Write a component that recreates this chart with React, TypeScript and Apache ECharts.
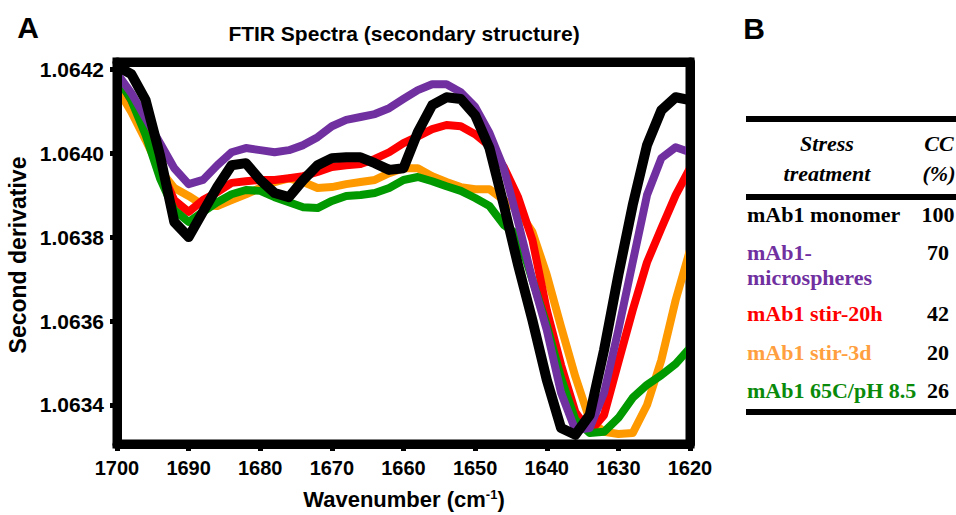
import React, { useEffect, useRef } from "react";
import * as echarts from "echarts";

const wavenumbers = [
  1700, 1698, 1696, 1694, 1692, 1690, 1688, 1686, 1684, 1682, 1680, 1678, 1676, 1674,
  1672, 1670, 1668, 1666, 1664, 1662, 1660, 1658, 1656, 1654, 1652, 1650, 1648, 1646,
  1644, 1642, 1640, 1638, 1636, 1634, 1632, 1630, 1628, 1626, 1624, 1622, 1620,
];

const monomer = [
  1.064207, 1.064188, 1.064126, 1.063995, 1.063836, 1.0638, 1.06386, 1.063919, 1.063971,
  1.063976, 1.063936, 1.063905, 1.063895, 1.063936, 1.063971, 1.063988, 1.06399, 1.06399,
  1.063976, 1.06396, 1.063964, 1.06405, 1.064114, 1.064133, 1.064129, 1.06409, 1.064012,
  1.063876, 1.063733, 1.063602, 1.06346, 1.063345, 1.063329, 1.063376, 1.063531, 1.06371,
  1.063876, 1.064019, 1.064102, 1.064133, 1.064126,
];

const microspheres = [
  1.06419, 1.064143, 1.064083, 1.064024, 1.063964, 1.063926, 1.063936, 1.063971, 1.064002,
  1.064012, 1.064007, 1.064002, 1.064007, 1.064019, 1.064038, 1.064064, 1.064079, 1.064086,
  1.064093, 1.064107, 1.064129, 1.06415, 1.064164, 1.064164, 1.064145, 1.06411, 1.064048,
  1.063964, 1.063836, 1.063698, 1.063579, 1.063429, 1.06334, 1.063345, 1.063429, 1.063579,
  1.06374, 1.0639, 1.063988, 1.064014, 1.064002,
];

const stir20h = [
  1.064186, 1.064126, 1.064055, 1.063964, 1.063888, 1.06386, 1.063888, 1.063907, 1.063929,
  1.063933, 1.063936, 1.063936, 1.06394, 1.063945, 1.063955, 1.063967, 1.063971, 1.063974,
  1.063986, 1.064002, 1.064024, 1.06404, 1.064057, 1.064067, 1.064064, 1.064045, 1.064017,
  1.063967, 1.063895, 1.063793, 1.063626, 1.063495, 1.063383, 1.063336, 1.063376, 1.063502,
  1.063626, 1.06374, 1.063821, 1.0639, 1.063964,
];

const stir3d = [
  1.064155, 1.064098, 1.064031, 1.06396, 1.063917, 1.063898, 1.063876, 1.063874, 1.063888,
  1.063902, 1.063917, 1.063931, 1.06394, 1.063931, 1.063917, 1.063919, 1.063926, 1.063931,
  1.063936, 1.063952, 1.063964, 1.063964, 1.063945, 1.063931, 1.063919, 1.063914, 1.063914,
  1.063888, 1.063864, 1.063812, 1.06371, 1.063586, 1.063467, 1.063364, 1.063336, 1.063331,
  1.063333, 1.0634, 1.063507, 1.06365, 1.063769,
];

const heat65C = [
  1.064181, 1.064126, 1.064043, 1.06394, 1.063864, 1.063836, 1.06386, 1.063883, 1.063902,
  1.063912, 1.06391, 1.063895, 1.063883, 1.063871, 1.063869, 1.063886, 1.063898, 1.0639,
  1.063905, 1.063917, 1.063936, 1.063943, 1.063933, 1.063921, 1.06391, 1.063893, 1.063874,
  1.063829, 1.063805, 1.063698, 1.06359, 1.063464, 1.063364, 1.063333, 1.063336, 1.063369,
  1.063417, 1.063448, 1.063471, 1.063498, 1.063536,
];

const yTicks = [1.0634, 1.0636, 1.0638, 1.064, 1.0642];

const tableRows = ["mAb1 monomer", "mAb1-\nmicrospheres", "mAb1 stir-20h", "mAb1 stir-3d", "mAb1 65C/pH 8.5"];
const tableCC = ["100", "70", "42", "20", "26"];

const sans = '"Liberation Sans", Arial, sans-serif';
const serif = '"Liberation Serif", "Times New Roman", serif';

export default function App() {
  const ref = useRef<HTMLDivElement>(null);
  useEffect(() => {
    if (!ref.current) return;
    const chart = echarts.init(ref.current, undefined, { renderer: "svg" });
    const pair = (arr: number[]) => wavenumbers.map((w, i) => [w, arr[i]]);
    const mk = (name: string, arr: number[], color: string, width: number) => ({
      name,
      type: "line",
      data: pair(arr),
      showSymbol: false,
      symbol: "none",
      lineStyle: { color, width, join: "round" },
      xAxisIndex: 0,
      yAxisIndex: 0,
    });
    const yMin = 1.063307;
    const yMax = 1.064217;
    const rowY = [214, 252, 313, 352, 390];
    const rowColors = ["#000000", "#7030A0", "#FF0000", "#FF9F40", "#0A8A0A"];
    const tf = `bold 22px ${serif}`;
    const tfi = `italic bold 22px ${serif}`;
    const tableGraphics: any[] = [];
    [119, 197, 412].forEach((y) =>
      tableGraphics.push({ type: "rect", shape: { x: 746, y: y - 3, width: 215, height: 6 }, style: { fill: "#000" } })
    );
    tableGraphics.push({ type: "text", x: 827, y: 143, style: { text: "Stress", font: tfi, fill: "#000", align: "center", verticalAlign: "middle" } });
    tableGraphics.push({ type: "text", x: 827, y: 173, style: { text: "treatment", font: tfi, fill: "#000", align: "center", verticalAlign: "middle" } });
    tableGraphics.push({ type: "text", x: 939, y: 143, style: { text: "CC", font: tfi, fill: "#000", align: "center", verticalAlign: "middle" } });
    tableGraphics.push({ type: "text", x: 939, y: 173, style: { text: "(%)", font: tfi, fill: "#000", align: "center", verticalAlign: "middle" } });
    tableRows.forEach((t, i) => {
      const lines = t.split("\n");
      lines.forEach((ln, j) => {
        tableGraphics.push({ type: "text", x: 747, y: rowY[i] + j * 25, style: { text: ln, font: tf, fill: rowColors[i], align: "left", verticalAlign: "middle" } });
      });
      tableGraphics.push({ type: "text", x: 938, y: rowY[i], style: { text: tableCC[i], font: tf, fill: "#000", align: "center", verticalAlign: "middle" } });
    });

    const hiddenAxis = {
      axisTick: { show: false },
      axisLabel: { show: false },
      splitLine: { show: false },
      axisLine: { show: true, lineStyle: { color: "#000", width: 9 } },
      z: 10,
    };

    chart.setOption({
      animation: false,
      backgroundColor: "#fff",
      grid: { left: 117, right: 266, top: 62, bottom: 71, show: true, borderColor: "#000", borderWidth: 9, backgroundColor: "transparent" },
      xAxis: [
        {
          type: "value",
          inverse: true,
          min: 1620,
          max: 1700,
          interval: 10,
          position: "bottom",
          z: 10,
          splitLine: { show: false },
          axisLine: { show: true, onZero: false, lineStyle: { color: "#000", width: 9 } },
          axisTick: { show: true, inside: false, length: 7, lineStyle: { color: "#000", width: 5 } },
          axisLabel: { color: "#000", fontFamily: sans, fontWeight: "bold", fontSize: 20, margin: 14, formatter: (v: number) => String(v) },
        },
        { type: "value", inverse: true, min: 1620, max: 1700, position: "top", ...hiddenAxis },
      ],
      yAxis: [
        {
          type: "value",
          min: yMin,
          max: yMax,
          position: "left",
          z: 10,
          splitLine: { show: false },
          axisLine: { show: true, onZero: false, lineStyle: { color: "#000", width: 9 } },
          axisTick: { show: true, length: 7, lineStyle: { color: "#000", width: 5 }, customValues: yTicks },
          axisLabel: {
            color: "#000",
            fontFamily: sans,
            fontWeight: "bold",
            fontSize: 21,
            margin: 13,
            customValues: yTicks,
            formatter: (v: number) => v.toFixed(4),
          },
        },
        { type: "value", min: yMin, max: yMax, position: "right", ...hiddenAxis },
      ],
      series: [
        mk("mAb1 stir-3d", stir3d, "#FF9900", 8),
        mk("mAb1 stir-20h", stir20h, "#FF0000", 8),
        mk("mAb1 65C/pH 8.5", heat65C, "#009900", 8),
        mk("mAb1-microspheres", microspheres, "#7030A0", 8),
        mk("mAb1 monomer", monomer, "#000000", 10),
      ],
      graphic: [
        { type: "text", x: 28, y: 27, style: { text: "A", font: `bold 30px ${sans}`, fill: "#000", align: "center", verticalAlign: "middle" } },
        { type: "text", x: 754, y: 28, style: { text: "B", font: `bold 30px ${sans}`, fill: "#000", align: "center", verticalAlign: "middle" } },
        { type: "text", x: 404, y: 33, style: { text: "FTIR Spectra (secondary structure)", font: `bold 21px ${sans}`, fill: "#000", align: "center", verticalAlign: "middle" } },
        { type: "text", x: 18, y: 255, rotation: Math.PI / 2, style: { text: "Second derivative", font: `bold 23px ${sans}`, fill: "#000", align: "center", verticalAlign: "middle" } },
        {
          type: "text",
          x: 404,
          y: 499,
          style: {
            text: "{a|Wavenumber (cm}{s|-1}{a|)}",
            align: "center",
            verticalAlign: "middle",
            rich: {
              a: { fontFamily: sans, fontWeight: "bold", fontSize: 22, fill: "#000", color: "#000" },
              s: { fontFamily: sans, fontWeight: "bold", fontSize: 13, fill: "#000", color: "#000", verticalAlign: "top" },
            },
          },
        },
        ...tableGraphics,
      ],
    });
    return () => chart.dispose();
  }, []);
  return <div ref={ref} style={{ position: "absolute", left: 0, top: 0, width: 956, height: 515 }} />;
}
